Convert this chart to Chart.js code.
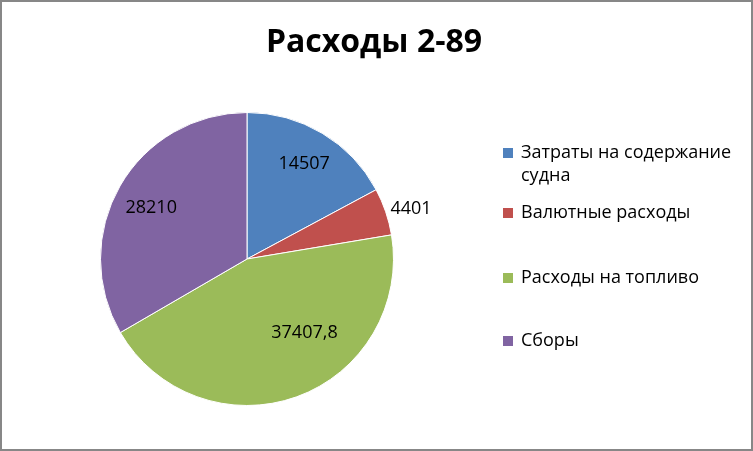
<!DOCTYPE html>
<html lang="ru">
<head>
<meta charset="utf-8">
<title>Расходы 2-89</title>
<script src="https://cdn.jsdelivr.net/npm/chart.js@4.4.1/dist/chart.umd.min.js"></script>
<style>
    html, body { margin: 0; padding: 0; background: #fff; }
    #wrap { width: 753px; height: 451px; }
</style>
</head>
<body>
<div id="wrap"><canvas id="expensesChart" width="753" height="451"></canvas></div>
<script>
// Данные диаграммы
const TITLE = 'Расходы 2-89';
const categories = ['Затраты на содержание судна', 'Валютные расходы', 'Расходы на топливо', 'Сборы'];
const values = [14507, 4401, 37407.8, 28210];
const colors = ['#4F81BD', '#C0504D', '#9BBB59', '#8064A2'];

const FONT = '"Open Sans", "Noto Sans", sans-serif';

// Формат подписи: десятичная запятая, без разделителя разрядов
const formatValue = (v) => String(v).replace('.', ',');

// Размещение подписей: доля радиуса и сдвиг угла (в градусах)
const labelPlacement = [
    { r: 0.76, shift: 0 },
    { r: 1.17, shift: 2 },
    { r: 0.64, shift: -18 },
    { r: 0.74, shift: -2 }
];

// Заголовок, рамка, подписи значений и легенда
const decorPlugin = {
    id: 'decor',
    afterDraw(chart) {
        const ctx = chart.ctx;
        ctx.save();

        // рамка
        ctx.strokeStyle = '#878787';
        ctx.lineWidth = 2;
        ctx.strokeRect(1, 1, chart.width - 2, chart.height - 2);

        // заголовок
        ctx.fillStyle = '#000';
        ctx.font = 'bold 32px ' + FONT;
        ctx.textAlign = 'center';
        ctx.textBaseline = 'middle';
        ctx.fillText(TITLE, 374, 43);

        // подписи значений
        const meta = chart.getDatasetMeta(0);
        ctx.font = '18px ' + FONT;
        meta.data.forEach((arc, i) => {
            const p = arc.getProps(['x', 'y', 'startAngle', 'endAngle', 'outerRadius'], true);
            const place = labelPlacement[i];
            const mid = (p.startAngle + p.endAngle) / 2 + place.shift * Math.PI / 180;
            const rr = p.outerRadius * place.r;
            ctx.fillText(formatValue(values[i]), p.x + Math.cos(mid) * rr, p.y + Math.sin(mid) * rr);
        });

        // легенда
        const legendX = 503;
        const textX = 521;
        const maxWidth = 224;
        const lineHeight = 23;
        const rows = [153, 213, 278, 341];
        ctx.font = '18px ' + FONT;
        ctx.textAlign = 'left';
        categories.forEach((label, i) => {
            ctx.fillStyle = colors[i];
            ctx.fillRect(legendX, rows[i] - 5, 10, 10);
            ctx.fillStyle = '#000';
            // перенос по словам
            const words = label.split(' ');
            let line = '';
            let y = rows[i];
            words.forEach((w) => {
                const test = line ? line + ' ' + w : w;
                if (line && ctx.measureText(test).width > maxWidth) {
                    ctx.fillText(line, textX, y);
                    line = w;
                    y += lineHeight;
                } else {
                    line = test;
                }
            });
            ctx.fillText(line, textX, y);
        });

        ctx.restore();
    }
};

document.addEventListener('DOMContentLoaded', () => {
    const ctx = document.getElementById('expensesChart').getContext('2d');
    new Chart(ctx, {
        type: 'pie',
        data: {
            labels: categories,
            datasets: [{
                data: values,
                backgroundColor: colors,
                borderColor: '#ffffff',
                borderWidth: 1
            }]
        },
        options: {
            responsive: false,
            animation: false,
            layout: {
                padding: { top: 112, bottom: 45, left: 0, right: 259 }
            },
            plugins: {
                legend: { display: false },
                title: { display: false },
                tooltip: { enabled: false }
            }
        },
        plugins: [decorPlugin]
    });
});
</script>
</body>
</html>
